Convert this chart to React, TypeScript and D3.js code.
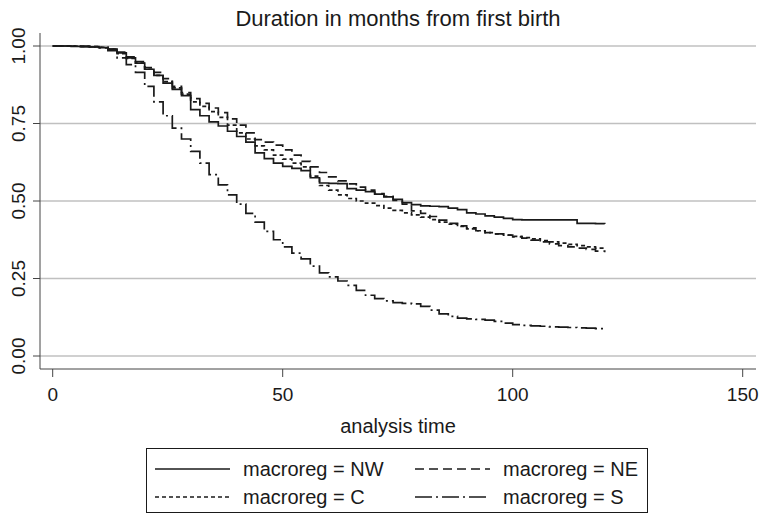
import React from "react";
import * as d3 from "d3";

// survival estimates, every 2 months
const months = [
  0, 2, 4, 6, 8, 10, 12, 14, 16, 18, 20, 22, 24, 26, 28, 30, 32, 34, 36, 38, 40,
  42, 44, 46, 48, 50, 52, 54, 56, 58, 60, 62, 64, 66, 68, 70, 72, 74, 76, 78, 80,
  82, 84, 86, 88, 90, 92, 94, 96, 98, 100, 102, 104, 106, 108, 110, 112, 114, 116,
  118, 120,
];

const survNW = [
  1.0, 1.0, 0.999, 0.998, 0.997, 0.995, 0.99, 0.978, 0.962, 0.945, 0.925, 0.905,
  0.88, 0.86, 0.84, 0.795, 0.775, 0.755, 0.742, 0.725, 0.708, 0.69, 0.655, 0.637,
  0.622, 0.612, 0.605, 0.598, 0.575, 0.558, 0.557, 0.556, 0.54, 0.535, 0.53,
  0.522, 0.513, 0.505, 0.495, 0.488, 0.484, 0.483, 0.482, 0.477, 0.472, 0.462,
  0.458, 0.452, 0.448, 0.444, 0.44, 0.439, 0.439, 0.439, 0.439, 0.439, 0.439,
  0.428, 0.428, 0.427, 0.426,
];

const survNE = [
  1.0, 1.0, 1.0, 0.999, 0.998, 0.996, 0.99, 0.98, 0.965, 0.95, 0.93, 0.915, 0.895,
  0.87, 0.85, 0.83, 0.815, 0.8, 0.785, 0.765, 0.745, 0.72, 0.698, 0.69, 0.68,
  0.665, 0.648, 0.628, 0.61, 0.592, 0.578, 0.565, 0.555, 0.545, 0.535, 0.524,
  0.515, 0.502, 0.49, 0.468, 0.46, 0.45, 0.438, 0.428, 0.42, 0.413, 0.404, 0.398,
  0.394, 0.39, 0.384, 0.38, 0.374, 0.368, 0.362, 0.356, 0.352, 0.348, 0.344,
  0.338, 0.335,
];

const survC = [
  1.0, 1.0, 1.0, 0.999, 0.998, 0.996, 0.99, 0.975, 0.96, 0.945, 0.925, 0.905,
  0.885, 0.865, 0.845, 0.82, 0.805, 0.788, 0.77, 0.745, 0.72, 0.7, 0.678, 0.665,
  0.648, 0.635, 0.622, 0.61, 0.58, 0.55, 0.535, 0.52, 0.508, 0.5, 0.493, 0.485,
  0.477, 0.47, 0.462, 0.455, 0.448, 0.44, 0.432, 0.425, 0.418, 0.41, 0.404, 0.398,
  0.394, 0.39, 0.386, 0.382, 0.378, 0.372, 0.368, 0.364, 0.36, 0.356, 0.352,
  0.348, 0.345,
];

const survS = [
  1.0, 1.0, 1.0, 0.999, 0.997, 0.994, 0.985, 0.962, 0.94, 0.915, 0.87, 0.82, 0.775,
  0.735, 0.7, 0.66, 0.622, 0.585, 0.552, 0.52, 0.49, 0.46, 0.432, 0.402, 0.375,
  0.352, 0.332, 0.313, 0.29, 0.268, 0.255, 0.242, 0.228, 0.212, 0.196, 0.185,
  0.178, 0.172, 0.17, 0.168, 0.16, 0.148, 0.136, 0.128, 0.122, 0.12, 0.118, 0.116,
  0.112, 0.106, 0.101, 0.099, 0.097, 0.096, 0.094, 0.093, 0.092, 0.091, 0.09,
  0.088, 0.087,
];

const seriesNames = ["macroreg = NW", "macroreg = NE", "macroreg = C", "macroreg = S"];
const yTicks = [0, 0.25, 0.5, 0.75, 1];
const xTicks = [0, 50, 100, 150];

const font = "'Liberation Sans', Arial, Helvetica, sans-serif";
const ink = "#1a1a1a";

const App = () => {
  const width = 761;
  const height = 514;
  const plot = { left: 40, right: 756, top: 33, bottom: 369 };

  const x = d3.scaleLinear().domain([0, 150]).range([52.7, 742.7]);
  const y = d3.scaleLinear().domain([0, 1]).range([356, 46]);
  const fmt = d3.format(".2f");

  const line = d3
    .line<number>()
    .x((_, i) => x(months[i]))
    .y((d) => y(d))
    .curve(d3.curveStepAfter);

  const series = [
    { name: seriesNames[0], values: survNW, dash: "none" },
    { name: seriesNames[1], values: survNE, dash: "9,5" },
    { name: seriesNames[2], values: survC, dash: "4,3" },
    { name: seriesNames[3], values: survS, dash: "17,4,2,4" },
  ];

  // legend layout: two columns, two rows
  const legendCells = [
    { s: series[0], lx: 155, ty: 469 },
    { s: series[1], lx: 415, ty: 469 },
    { s: series[2], lx: 155, ty: 497 },
    { s: series[3], lx: 415, ty: 497 },
  ];

  return (
    <svg
      width={width}
      height={height}
      style={{ position: "absolute", left: 0, top: 0, background: "#fff" }}
      fontFamily={font}
    >
      <text x={398} y={26} textAnchor="middle" fontSize={22} fill={ink}>
        Duration in months from first birth
      </text>

      {/* grid */}
      {yTicks.map((t) => (
        <line
          key={"g" + t}
          x1={plot.left}
          x2={plot.right}
          y1={y(t)}
          y2={y(t)}
          stroke="#c0c0c0"
          strokeWidth={1.6}
        />
      ))}

      {/* y axis */}
      <line x1={plot.left} x2={plot.left} y1={plot.top} y2={plot.bottom} stroke="#444" strokeWidth={1} />
      {yTicks.map((t) => (
        <g key={"y" + t}>
          <line x1={plot.left - 7} x2={plot.left} y1={y(t)} y2={y(t)} stroke="#444" strokeWidth={1} />
          <text
            transform={`translate(25,${y(t)}) rotate(-90)`}
            textAnchor="middle"
            fontSize={19}
            fill={ink}
          >
            {fmt(t)}
          </text>
        </g>
      ))}

      {/* x axis */}
      <line x1={plot.left} x2={plot.right} y1={plot.bottom} y2={plot.bottom} stroke="#444" strokeWidth={1} />
      {xTicks.map((t) => (
        <g key={"x" + t}>
          <line x1={x(t)} x2={x(t)} y1={plot.bottom} y2={plot.bottom + 8} stroke="#444" strokeWidth={1} />
          <text x={x(t)} y={401} textAnchor="middle" fontSize={19} fill={ink}>
            {t}
          </text>
        </g>
      ))}
      <text x={398} y={433} textAnchor="middle" fontSize={20} fill={ink}>
        analysis time
      </text>

      {/* survival curves */}
      {series.map((s) => (
        <path
          key={s.name}
          d={line(s.values) ?? ""}
          fill="none"
          stroke={ink}
          strokeWidth={1.7}
          strokeDasharray={s.dash}
        />
      ))}

      {/* legend */}
      <rect x={146.5} y={448.5} width={501} height={64} fill="#fff" stroke={ink} strokeWidth={1} />
      {legendCells.map(({ s, lx, ty }) => (
        <g key={"l" + s.name}>
          <line
            x1={lx}
            x2={lx + 75}
            y1={ty}
            y2={ty}
            stroke={ink}
            strokeWidth={1.7}
            strokeDasharray={s.dash}
          />
          <text x={lx + 88} y={ty + 7} fontSize={20} fill={ink}>
            {s.name}
          </text>
        </g>
      ))}
    </svg>
  );
};

export default App;
